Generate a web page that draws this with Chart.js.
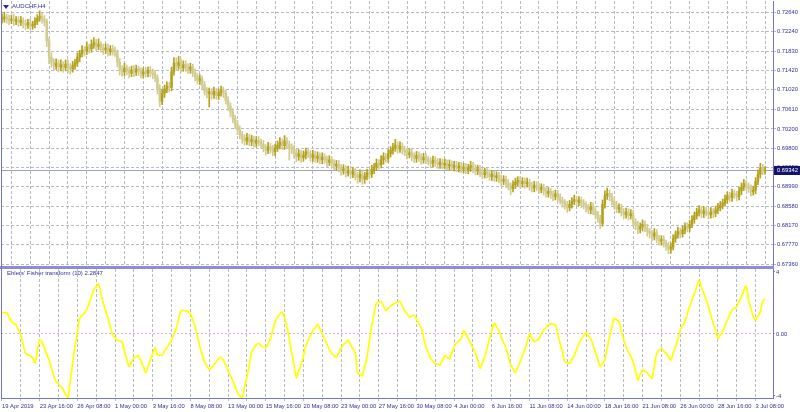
<!DOCTYPE html>
<html><head><meta charset="utf-8">
<script src="https://cdn.jsdelivr.net/npm/chart.js@4/dist/chart.umd.min.js"></script>
<style>
html,body{margin:0;padding:0;background:#fff;}
#wrap{position:relative;width:800px;height:412px;overflow:hidden;background:#fff;font-family:"Liberation Sans",Arial,sans-serif;}
canvas{position:absolute;left:0;}
#cA{top:0;}
#cB{top:266px;}
#sep{position:absolute;left:0;top:266px;width:774px;height:3px;background:#8c8cd8;}
#lb{position:absolute;left:1px;top:0;width:1px;height:399px;background:#7474c8;}
#tri{position:absolute;left:3px;top:5px;width:0;height:0;border-left:3px solid transparent;border-right:3px solid transparent;border-top:4px solid #2a2aa0;}
.lbl{position:absolute;color:#30309c;font-size:6px;line-height:6px;white-space:nowrap;}
#t1{left:12px;top:3px;}
#t2{left:7px;top:270px;}
</style></head><body>
<div id="wrap">
<canvas id="cA" width="800" height="272"></canvas>
<canvas id="cB" width="800" height="146"></canvas>
<div id="sep"></div><div id="lb"></div><div id="tri"></div>
<div class="lbl" id="t1">AUDCHF,H4</div>
<div class="lbl" id="t2">Ehlers' Fisher transform (10) 2.2847</div>
</div>
<script>
// ---- data (AUDCHF H4, one entry per bar, bar 0 = 19 Apr 2019 00:00) ----
const opens = [
.7250,.7252,.7255,.7250,.7248,.7251,.7246,.7249,.7244,.7247,
.7241,.7238,.7243,.7236,.7239,.7245,.7252,.7256,.7250,.7246,
.7205,.7170,.7160,.7152,.7158,.7150,.7155,.7149,.7156,.7150,
.7146,.7153,.7158,.7170,.7178,.7186,.7183,.7192,.7188,.7197,
.7201,.7193,.7198,.7190,.7186,.7190,.7182,.7188,.7184,.7180,
.7160,.7145,.7140,.7148,.7142,.7137,.7144,.7139,.7146,.7141,
.7135,.7140,.7137,.7143,.7138,.7135,.7128,.7105,.7078,.7095,
.7104,.7110,.7107,.7140,.7158,.7152,.7160,.7148,.7155,.7150,
.7145,.7150,.7138,.7130,.7122,.7125,.7112,.7100,.7094,.7098,
.7092,.7099,.7090,.7096,.7101,.7095,.7080,.7068,.7055,.7042,
.7030,.7018,.7008,.7000,.6995,.7002,.6993,.6998,.6990,.6996,
.6992,.6988,.6980,.6975,.6983,.6978,.6972,.6980,.6986,.6992,
.6985,.6995,.6988,.6982,.6978,.6970,.6962,.6968,.6960,.6965,
.6972,.6968,.6960,.6966,.6958,.6963,.6955,.6961,.6956,.6950,
.6955,.6948,.6942,.6946,.6938,.6932,.6936,.6928,.6933,.6925,
.6930,.6922,.6918,.6925,.6915,.6920,.6928,.6925,.6935,.6940,
.6948,.6945,.6955,.6962,.6958,.6968,.6975,.6980,.6986,.6978,
.6984,.6976,.6972,.6966,.6970,.6962,.6958,.6965,.6960,.6955,
.6961,.6956,.6952,.6948,.6955,.6950,.6945,.6950,.6944,.6948,
.6942,.6946,.6940,.6944,.6938,.6942,.6936,.6940,.6934,.6938,
.6943,.6937,.6932,.6936,.6928,.6924,.6930,.6926,.6920,.6925,
.6918,.6922,.6915,.6910,.6914,.6906,.6900,.6895,.6903,.6908,
.6912,.6905,.6910,.6905,.6908,.6900,.6896,.6902,.6898,.6893,
.6897,.6890,.6885,.6889,.6882,.6878,.6884,.6876,.6870,.6865,
.6860,.6855,.6862,.6868,.6872,.6866,.6870,.6864,.6860,.6855,
.6850,.6858,.6848,.6840,.6832,.6822,.6862,.6880,.6885,.6878,
.6868,.6860,.6852,.6855,.6845,.6840,.6846,.6838,.6842,.6825,
.6818,.6810,.6815,.6820,.6812,.6805,.6800,.6795,.6802,.6790,
.6785,.6788,.6780,.6775,.6768,.6772,.6790,.6798,.6805,.6800,
.6808,.6815,.6812,.6820,.6830,.6838,.6845,.6850,.6842,.6848,
.6845,.6840,.6846,.6843,.6850,.6855,.6860,.6865,.6872,.6880,
.6876,.6885,.6882,.6878,.6890,.6898,.6905,.6900,.6895,.6888,
.6892,.6910,.6925,.6938,.6932];
const highs = [
.7261,.7265,.7261,.7259,.7259,.7261,.7256,.7256,.7256,.7253,
.7249,.7250,.7251,.7246,.7254,.7260,.7268,.7263,.7258,.7251,
.7212,.7180,.7167,.7167,.7165,.7165,.7161,.7165,.7165,.7157,
.7162,.7166,.7180,.7185,.7195,.7193,.7202,.7198,.7207,.7212,
.7208,.7209,.7203,.7198,.7199,.7198,.7195,.7196,.7192,.7186,
.7168,.7153,.7158,.7154,.7150,.7152,.7153,.7154,.7152,.7149,
.7148,.7149,.7150,.7151,.7146,.7143,.7134,.7113,.7103,.7112,
.7119,.7118,.7150,.7170,.7169,.7172,.7167,.7163,.7163,.7157,
.7158,.7156,.7146,.7137,.7134,.7131,.7120,.7107,.7106,.7105,
.7108,.7105,.7104,.7110,.7108,.7102,.7088,.7075,.7063,.7049,
.7038,.7026,.7015,.7008,.7011,.7009,.7007,.7005,.7004,.7004,
.6999,.6996,.6987,.6992,.6990,.6986,.6988,.6995,.7002,.6999,
.7006,.7002,.6995,.6989,.6986,.6977,.6977,.6975,.6974,.6980,
.6980,.6975,.6975,.6973,.6972,.6970,.6970,.6968,.6963,.6964,
.6962,.6956,.6954,.6954,.6945,.6945,.6943,.6942,.6940,.6939,
.6937,.6929,.6934,.6932,.6929,.6936,.6935,.6944,.6948,.6957,
.6956,.6964,.6970,.6969,.6977,.6983,.6990,.6998,.6993,.6993,
.6991,.6984,.6979,.6979,.6977,.6970,.6973,.6972,.6968,.6969,
.6968,.6963,.6960,.6963,.6962,.6958,.6958,.6957,.6957,.6955,
.6955,.6953,.6952,.6952,.6950,.6950,.6948,.6948,.6946,.6952,
.6950,.6945,.6944,.6943,.6936,.6938,.6937,.6934,.6933,.6932,
.6930,.6929,.6923,.6922,.6921,.6914,.6907,.6911,.6917,.6920,
.6920,.6918,.6917,.6917,.6915,.6908,.6910,.6909,.6906,.6905,
.6904,.6898,.6897,.6896,.6890,.6892,.6891,.6884,.6877,.6872,
.6868,.6870,.6876,.6881,.6879,.6878,.6877,.6872,.6867,.6862,
.6866,.6865,.6856,.6847,.6839,.6871,.6890,.6896,.6892,.6885,
.6875,.6868,.6863,.6862,.6853,.6854,.6853,.6851,.6849,.6832,
.6826,.6823,.6829,.6827,.6820,.6812,.6807,.6811,.6809,.6797,
.6796,.6796,.6787,.6782,.6781,.6798,.6806,.6814,.6812,.6816,
.6823,.6823,.6828,.6838,.6846,.6854,.6859,.6857,.6857,.6855,
.6852,.6855,.6853,.6858,.6864,.6868,.6873,.6881,.6888,.6887,
.6894,.6892,.6889,.6898,.6907,.6914,.6912,.6907,.6903,.6900,
.6918,.6934,.6948,.6946,.6941];
const lows = [
.7242,.7244,.7242,.7239,.7241,.7237,.7239,.7235,.7237,.7232,
.7228,.7231,.7227,.7229,.7232,.7239,.7246,.7242,.7236,.7193,
.7157,.7150,.7142,.7145,.7140,.7142,.7139,.7142,.7138,.7135,
.7139,.7145,.7151,.7161,.7171,.7173,.7176,.7179,.7181,.7189,
.7184,.7186,.7181,.7177,.7178,.7173,.7175,.7175,.7172,.7150,
.7133,.7131,.7132,.7134,.7127,.7130,.7130,.7132,.7132,.7127,
.7127,.7129,.7129,.7130,.7125,.7119,.7093,.7067,.7071,.7086,
.7096,.7098,.7100,.7133,.7143,.7145,.7139,.7141,.7141,.7136,
.7137,.7130,.7121,.7114,.7113,.7104,.7091,.7085,.7066,.7082,
.7084,.7082,.7082,.7089,.7086,.7072,.7059,.7046,.7033,.7021,
.7008,.6999,.6990,.6986,.6987,.6985,.6985,.6982,.6982,.6984,
.6979,.6972,.6965,.6968,.6969,.6964,.6964,.6973,.6978,.6977,
.6977,.6980,.6955,.6968,.6960,.6951,.6954,.6950,.6952,.6957,
.6959,.6952,.6952,.6950,.6950,.6947,.6947,.6948,.6941,.6943,
.6939,.6934,.6934,.6930,.6923,.6925,.6919,.6921,.6916,.6918,
.6913,.6906,.6909,.6904,.6906,.6913,.6915,.6918,.6926,.6933,
.6936,.6938,.6946,.6950,.6950,.6961,.6967,.6973,.6969,.6971,
.6967,.6964,.6957,.6959,.6953,.6950,.6950,.6952,.6946,.6948,
.6947,.6944,.6939,.6941,.6941,.6937,.6937,.6936,.6936,.6934,
.6934,.6932,.6932,.6930,.6930,.6928,.6928,.6926,.6926,.6931,
.6928,.6924,.6924,.6920,.6915,.6917,.6917,.6912,.6912,.6910,
.6910,.6907,.6901,.6903,.6897,.6892,.6882,.6888,.6895,.6901,
.6896,.6898,.6896,.6898,.6891,.6888,.6888,.6890,.6884,.6886,
.6881,.6877,.6877,.6874,.6869,.6871,.6867,.6862,.6856,.6852,
.6845,.6848,.6854,.6861,.6857,.6859,.6855,.6852,.6846,.6842,
.6842,.6840,.6831,.6824,.6811,.6816,.6854,.6872,.6869,.6860,
.6851,.6844,.6844,.6837,.6831,.6833,.6829,.6831,.6816,.6809,
.6800,.6802,.6806,.6804,.6795,.6791,.6785,.6787,.6781,.6776,
.6776,.6772,.6765,.6758,.6759,.6766,.6782,.6791,.6791,.6793,
.6800,.6804,.6804,.6813,.6822,.6831,.6837,.6834,.6834,.6837,
.6831,.6833,.6834,.6836,.6842,.6848,.6852,.6858,.6864,.6868,
.6868,.6874,.6869,.6871,.6882,.6891,.6891,.6887,.6879,.6881,
.6884,.6903,.6917,.6924,.6925];
const closes = [
.7252,.7255,.7250,.7248,.7251,.7246,.7249,.7244,.7247,.7241,
.7238,.7243,.7236,.7239,.7245,.7252,.7256,.7250,.7246,.7205,
.7170,.7160,.7152,.7158,.7150,.7155,.7149,.7156,.7150,.7146,
.7153,.7158,.7170,.7178,.7186,.7183,.7192,.7188,.7197,.7201,
.7193,.7198,.7190,.7186,.7190,.7182,.7188,.7184,.7180,.7160,
.7145,.7140,.7148,.7142,.7137,.7144,.7139,.7146,.7141,.7135,
.7140,.7137,.7143,.7138,.7135,.7128,.7105,.7078,.7095,.7104,
.7110,.7107,.7140,.7158,.7152,.7160,.7148,.7155,.7150,.7145,
.7150,.7138,.7130,.7122,.7125,.7112,.7100,.7094,.7098,.7092,
.7099,.7090,.7096,.7101,.7095,.7080,.7068,.7055,.7042,.7030,
.7018,.7008,.7000,.6995,.7002,.6993,.6998,.6990,.6996,.6992,
.6988,.6980,.6975,.6983,.6978,.6972,.6980,.6986,.6992,.6985,
.6995,.6988,.6982,.6978,.6970,.6962,.6968,.6960,.6965,.6972,
.6968,.6960,.6966,.6958,.6963,.6955,.6961,.6956,.6950,.6955,
.6948,.6942,.6946,.6938,.6932,.6936,.6928,.6933,.6925,.6930,
.6922,.6918,.6925,.6915,.6920,.6928,.6925,.6935,.6940,.6948,
.6945,.6955,.6962,.6958,.6968,.6975,.6980,.6986,.6978,.6984,
.6976,.6972,.6966,.6970,.6962,.6958,.6965,.6960,.6955,.6961,
.6956,.6952,.6948,.6955,.6950,.6945,.6950,.6944,.6948,.6942,
.6946,.6940,.6944,.6938,.6942,.6936,.6940,.6934,.6938,.6943,
.6937,.6932,.6936,.6928,.6924,.6930,.6926,.6920,.6925,.6918,
.6922,.6915,.6910,.6914,.6906,.6900,.6895,.6903,.6908,.6912,
.6905,.6910,.6905,.6908,.6900,.6896,.6902,.6898,.6893,.6897,
.6890,.6885,.6889,.6882,.6878,.6884,.6876,.6870,.6865,.6860,
.6855,.6862,.6868,.6872,.6866,.6870,.6864,.6860,.6855,.6850,
.6858,.6848,.6840,.6832,.6822,.6862,.6880,.6885,.6878,.6868,
.6860,.6852,.6855,.6845,.6840,.6846,.6838,.6842,.6825,.6818,
.6810,.6815,.6820,.6812,.6805,.6800,.6795,.6802,.6790,.6785,
.6788,.6780,.6775,.6768,.6772,.6790,.6798,.6805,.6800,.6808,
.6815,.6812,.6820,.6830,.6838,.6845,.6850,.6842,.6848,.6845,
.6840,.6846,.6843,.6850,.6855,.6860,.6865,.6872,.6880,.6876,
.6885,.6882,.6878,.6890,.6898,.6905,.6900,.6895,.6888,.6892,
.6910,.6925,.6938,.6932,.6934];
const fisher = [
1.35,1.40,1.37,1.10,0.80,0.70,0.58,0.25,-0.06,-0.70,
-1.23,-1.35,-1.40,-1.55,-1.87,-1.10,-0.39,-0.50,-0.90,-1.30,
-1.68,-2.20,-2.70,-3.08,-3.20,-3.40,-3.60,-3.90,-4.13,-2.97,
-1.90,-0.82,0.10,1.00,1.20,1.33,1.60,2.00,2.40,2.84,
3.05,3.22,2.62,2.00,1.50,1.03,0.45,-0.06,-0.25,-0.39,
-0.45,-0.50,-1.10,-1.68,-2.10,-1.80,-1.55,-1.45,-1.40,-1.75,
-2.10,-2.50,-2.10,-1.68,-1.25,-0.90,-1.35,-1.38,-1.35,-1.10,
-0.90,-0.65,-0.39,0.00,0.37,0.95,1.50,1.52,1.48,1.44,
1.33,0.90,0.47,-0.15,-0.82,-1.30,-1.80,-2.05,-2.30,-2.15,
-2.00,-1.80,-1.60,-1.50,-1.70,-2.00,-2.35,-2.70,-3.00,-3.40,
-3.80,-4.00,-4.10,-3.40,-2.80,-2.00,-1.20,-0.90,-0.70,-0.60,
-0.75,-0.85,-0.90,-0.60,-0.30,0.25,0.80,1.10,1.30,1.40,
1.00,0.50,-0.35,-1.20,-2.00,-2.80,-2.40,-2.00,-1.40,-0.80,
-0.40,-0.10,0.20,0.40,0.60,0.30,0.00,-0.30,-0.65,-1.00,
-1.25,-1.40,-1.50,-1.20,-0.90,-0.70,-0.55,-0.40,-0.70,-0.95,
-1.20,-2.50,-2.60,-2.70,-2.10,-1.50,-0.50,0.50,1.30,2.00,
2.05,2.10,1.80,1.50,1.65,1.80,1.90,2.00,2.05,2.10,
1.80,1.50,1.30,1.10,1.15,1.20,0.95,0.65,0.40,-0.20,
-0.80,-1.20,-1.60,-1.75,-1.90,-1.95,-2.00,-1.70,-1.40,-1.50,
-1.60,-1.20,-0.80,-0.60,-0.45,-0.30,0.20,0.00,-0.30,-0.60,
-0.90,-1.20,-1.70,-2.20,-1.85,-1.50,-0.90,-0.30,0.20,0.70,
0.45,0.20,-0.20,-0.55,-0.90,-1.45,-2.00,-2.25,-2.50,-2.15,
-1.80,-1.40,-1.00,-0.50,0.00,-0.25,-0.50,-0.40,-0.30,0.00,
0.25,0.40,0.60,0.65,0.62,0.60,0.00,-0.60,-1.20,-1.80,
-1.85,-1.90,-1.65,-1.40,-1.00,-0.60,-0.35,-0.10,0.10,-0.10,
-0.30,-0.75,-1.20,-1.65,-2.10,-1.90,-1.68,-0.90,-0.17,0.50,
1.01,0.90,0.80,0.15,-0.35,-0.82,-1.15,-1.45,-1.78,-2.40,
-2.97,-2.60,-2.30,-2.40,-2.50,-2.70,-2.86,-2.05,-1.25,-1.05,
-0.92,-1.10,-1.25,-1.45,-1.68,-1.25,-0.82,-0.30,0.26,0.55,
0.80,1.30,1.76,2.20,2.62,3.05,3.44,3.05,2.62,2.20,
1.76,1.20,0.69,0.20,-0.28,-0.05,0.15,0.55,0.90,1.25,
1.55,1.65,1.76,2.10,2.41,2.80,3.10,2.20,1.65,1.12,
0.90,1.15,1.44,2.08,2.28];
const currentPrice = 0.69342;
const priceTicks = [0.72640,0.72240,0.71830,0.71420,0.71020,0.70610,0.70200,0.69800,0.69390,0.68990,0.68580,0.68170,0.67770,0.67360];
const fisherTicks = [4, 0, -4];
const fisherTickLabels = ['4', '0.00', '-4'];
const gridBars = [0,8,16,24,32,40,48,56,64,72,80,88,96,104,112,120,128,136,144,152,160,168,176,184,192,200,208,216,224,232,240,248,256,264,272,280,288,296,304,312,320];
const tickBars = [0,16,32,48,64,80,96,112,128,144,160,176,192,208,224,240,256,272,288,304,320];
const dateTicks = ['19 Apr 2019','23 Apr 16:00','26 Apr 08:00','1 May 00:00','3 May 16:00','8 May 08:00','13 May 00:00','15 May 16:00','20 May 08:00','23 May 00:00','27 May 16:00','30 May 08:00','4 Jun 00:00','6 Jun 16:00','11 Jun 08:00','14 Jun 00:00','18 Jun 16:00','21 Jun 08:00','26 Jun 00:00','28 Jun 16:00','3 Jul 08:00'];

// ---- styling / layout ----
const FONT = '"Liberation Sans", Arial, sans-serif';
const TXT = '#30309c', AXIS = '#7474c8', GRID = '#b4bac8', PINK = '#dca8e4';
const BULL = '#b3a11c', BEAR = '#d2cb8e';
const X_MIN = -0.42, X_MAX = 327.39;
const P_MIN = 0.673451, P_MAX = 0.728855;

const colors = closes.map((c, i) => c >= opens[i] ? BULL : BEAR);
const bodyData = closes.map((c, i) => ({x: i, y: [opens[i], c]}));
const wickData = highs.map((h, i) => ({x: i, y: [lows[i], h]}));
const fisherData = fisher.map((v, i) => ({x: i, y: v}));

const xGrid = s => { s.ticks = gridBars.map(v => ({value: v})); };

const priceLine = {
  id: 'priceLine',
  beforeDatasetsDraw(c) {
    const ctx = c.ctx, a = c.chartArea, y = Math.round(c.scales.y.getPixelForValue(currentPrice)) + 0.5;
    ctx.save(); ctx.strokeStyle = '#9ea3b8'; ctx.lineWidth = 1;
    ctx.beginPath(); ctx.moveTo(a.left, y); ctx.lineTo(a.right, y); ctx.stroke(); ctx.restore();
  },
  afterDraw(c) {
    const ctx = c.ctx, a = c.chartArea, y = c.scales.y.getPixelForValue(currentPrice);
    ctx.save(); ctx.fillStyle = '#14146e'; ctx.fillRect(a.right + 1, Math.round(y) - 4, 26, 9);
    ctx.fillStyle = '#ffffff'; ctx.font = '5.8px ' + FONT; ctx.textBaseline = 'middle'; ctx.textAlign = 'left';
    ctx.fillText(currentPrice.toFixed(5), a.right + 4, Math.round(y) + 0.5); ctx.restore();
  }
};

new Chart(document.getElementById('cA'), {
  type: 'bar',
  data: {datasets: [
    {data: bodyData, backgroundColor: colors, barThickness: 1.8, grouped: false, borderWidth: 0},
    {data: wickData, backgroundColor: colors, barThickness: 1, grouped: false, borderWidth: 0}
  ]},
  options: {
    responsive: false, animation: false, events: [],
    layout: {padding: {left: 1, top: 1, right: 0, bottom: 7}},
    plugins: {legend: {display: false}, tooltip: {enabled: false}},
    scales: {
      x: {type: 'linear', min: X_MIN, max: X_MAX, offset: false,
        afterBuildTicks: xGrid,
        afterFit: s => { s.height = 0; s.paddingLeft = 0; s.paddingRight = 0; },
        ticks: {display: false},
        grid: {color: GRID, drawTicks: false, lineWidth: 1},
        border: {display: false, dash: [3, 2]}},
      y: {position: 'right', min: P_MIN, max: P_MAX,
        afterBuildTicks: s => { s.ticks = priceTicks.map(v => ({value: v})); },
        afterFit: s => { s.width = 27; s.paddingTop = 0; s.paddingBottom = 0; },
        ticks: {color: TXT, font: {family: FONT, size: 5.8}, padding: 1, autoSkip: false, callback: v => Number(v).toFixed(5)},
        grid: {color: GRID, tickLength: 3},
        border: {display: true, color: AXIS, width: 1, dash: [3, 2]}}
    }
  },
  plugins: [priceLine]
});

new Chart(document.getElementById('cB'), {
  type: 'line',
  data: {datasets: [{data: fisherData, borderColor: '#ffff00', borderWidth: 1.7, pointRadius: 0, tension: 0.3, fill: false}]},
  options: {
    responsive: false, animation: false, events: [],
    layout: {padding: {left: 1, top: 3, right: 0, bottom: 0}},
    plugins: {legend: {display: false}, tooltip: {enabled: false}},
    scales: {
      x: {type: 'linear', min: X_MIN, max: X_MAX, offset: false,
        afterBuildTicks: xGrid,
        afterFit: s => { s.height = 14; s.paddingLeft = 0; s.paddingRight = 0; },
        ticks: {autoSkip: false, maxRotation: 0, minRotation: 0, align: 'start', color: TXT, padding: 1.5,
          font: {family: FONT, size: 5.8},
          callback: v => { const k = tickBars.indexOf(v); return k >= 0 ? dateTicks[k] : ''; }},
        grid: {color: GRID, tickLength: 3},
        border: {display: true, color: AXIS, width: 1, dash: [3, 2]}},
      y: {position: 'right', min: -4.13, max: 4.19,
        afterBuildTicks: s => { s.ticks = fisherTicks.map(v => ({value: v})); },
        afterFit: s => { s.width = 27; s.paddingTop = 0; s.paddingBottom = 0; },
        ticks: {color: TXT, font: {family: FONT, size: 5.8}, padding: 1, autoSkip: false,
          callback: v => fisherTickLabels[fisherTicks.indexOf(v)]},
        grid: {color: c => (c.tick && c.tick.value === 0) ? PINK : 'rgba(0,0,0,0)', tickColor: c => (c.tick && c.tick.value === 0) ? PINK : AXIS, tickLength: 2},
        border: {display: true, color: AXIS, width: 1, dash: [2, 2]}}
    }
  }
});
</script>
</body></html>
